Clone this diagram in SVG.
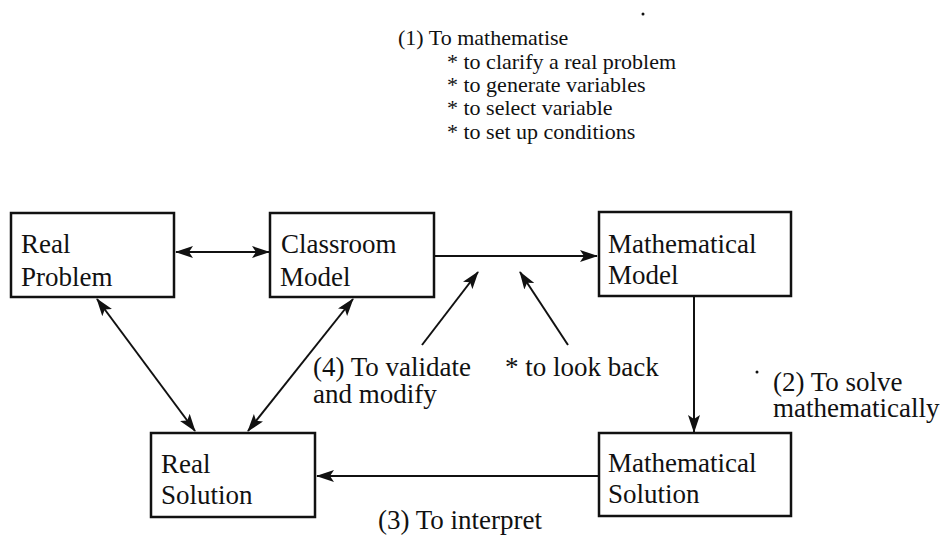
<svg xmlns="http://www.w3.org/2000/svg" width="948" height="537" viewBox="0 0 948 537">
<style>
text{font-family:"Liberation Serif","Times New Roman",serif;fill:#111;font-size:27px}
.top{font-size:22px}
.box{fill:#fff;stroke:#111;stroke-width:2.5}
.c{stroke:#111;stroke-width:2;fill:none}
</style>
<defs>
<marker id="ah" markerUnits="userSpaceOnUse" markerWidth="18" markerHeight="12" refX="17" refY="6" orient="auto-start-reverse">
<path d="M0,0 L18,6 L0,12 L4,6 z" fill="#111"/>
</marker>
</defs>
<rect width="948" height="537" fill="#fff"/>
<g id="top-label" class="top">
<text class="top" x="398" y="45">(1) To mathematise</text>
<text class="top" x="447" y="69">* to clarify a real problem</text>
<text class="top" x="447" y="92">* to generate variables</text>
<text class="top" x="447" y="115">* to select variable</text>
<text class="top" x="447" y="139">* to set up conditions</text>
</g>
<g id="connectors">
<line class="c" x1="176" y1="252" x2="269" y2="252" marker-start="url(#ah)" marker-end="url(#ah)"/>
<line class="c" x1="435" y1="256" x2="597" y2="256" marker-end="url(#ah)"/>
<line class="c" x1="694" y1="297" x2="694" y2="432" marker-end="url(#ah)"/>
<line class="c" x1="598" y1="476" x2="317" y2="476" marker-end="url(#ah)"/>
<line class="c" x1="97" y1="299" x2="195" y2="431" marker-start="url(#ah)" marker-end="url(#ah)"/>
<line class="c" x1="353" y1="299" x2="248" y2="431" marker-start="url(#ah)" marker-end="url(#ah)"/>
<line class="c" x1="422" y1="345" x2="478" y2="272" marker-end="url(#ah)"/>
<line class="c" x1="568" y1="345" x2="520" y2="272" marker-end="url(#ah)"/>
</g>
<g id="real-problem">
<rect class="box" x="11" y="213" width="163" height="84"/>
<text x="21" y="253">Real</text>
<text x="21" y="286">Problem</text>
</g>
<g id="classroom-model">
<rect class="box" x="270" y="213" width="164" height="84"/>
<text x="281" y="253">Classroom</text>
<text x="280" y="286">Model</text>
</g>
<g id="mathematical-model">
<rect class="box" x="599" y="212" width="192" height="84"/>
<text x="608" y="253">Mathematical</text>
<text x="608" y="284">Model</text>
</g>
<g id="real-solution">
<rect class="box" x="151" y="433" width="164" height="84"/>
<text x="161" y="473">Real</text>
<text x="161" y="504">Solution</text>
</g>
<g id="mathematical-solution">
<rect class="box" x="599" y="433" width="192" height="83"/>
<text x="608" y="472">Mathematical</text>
<text x="608" y="503">Solution</text>
</g>
<g id="labels">
<text x="313" y="376">(4) To validate</text>
<text x="313" y="403">and modify</text>
<text x="505" y="376">* to look back</text>
<text x="773" y="391">(2) To solve</text>
<text x="773" y="417">mathematically</text>
<text x="378" y="529">(3) To interpret</text>
</g>
<g id="specks" fill="#111">
<circle cx="643" cy="14" r="1.5"/>
<circle cx="757" cy="372" r="1.5"/>
</g>
</svg>
